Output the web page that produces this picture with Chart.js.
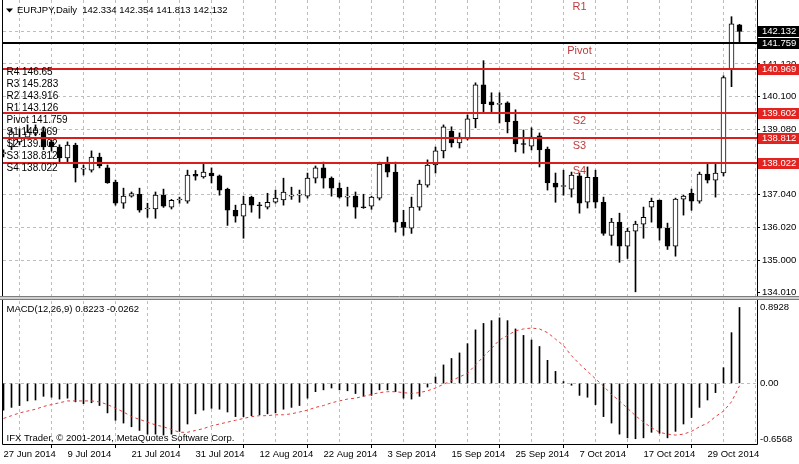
<!DOCTYPE html>
<html><head><meta charset="utf-8">
<script src="https://cdn.jsdelivr.net/npm/chart.js@4.4.0/dist/chart.umd.min.js"></script>
<style>
html,body{margin:0;padding:0;background:#fff;width:799px;height:464px;overflow:hidden;}
canvas{position:absolute;left:0;}
#c1{top:0;}
#c2{top:297px;}
</style></head><body>
<canvas id="c1" width="799" height="297"></canvas>
<canvas id="c2" width="799" height="167"></canvas>
<script>
// ---------- data ----------
const symbolTitle = 'EURJPY,Daily';
const lastQuote = [142.334, 142.354, 141.813, 142.132];
const dates = ['27 Jun 2014','30 Jun 2014','1 Jul 2014','2 Jul 2014','3 Jul 2014','4 Jul 2014','7 Jul 2014','8 Jul 2014',
'9 Jul 2014','10 Jul 2014','11 Jul 2014','14 Jul 2014','15 Jul 2014','16 Jul 2014','17 Jul 2014','18 Jul 2014',
'21 Jul 2014','22 Jul 2014','23 Jul 2014','24 Jul 2014','25 Jul 2014','28 Jul 2014','29 Jul 2014','30 Jul 2014',
'31 Jul 2014','1 Aug 2014','4 Aug 2014','5 Aug 2014','6 Aug 2014','7 Aug 2014','8 Aug 2014','11 Aug 2014',
'12 Aug 2014','13 Aug 2014','14 Aug 2014','15 Aug 2014','18 Aug 2014','19 Aug 2014','20 Aug 2014','21 Aug 2014',
'22 Aug 2014','25 Aug 2014','26 Aug 2014','27 Aug 2014','28 Aug 2014','29 Aug 2014','1 Sep 2014','2 Sep 2014',
'3 Sep 2014','4 Sep 2014','5 Sep 2014','8 Sep 2014','9 Sep 2014','10 Sep 2014','11 Sep 2014','12 Sep 2014',
'15 Sep 2014','16 Sep 2014','17 Sep 2014','18 Sep 2014','19 Sep 2014','22 Sep 2014','23 Sep 2014','24 Sep 2014',
'25 Sep 2014','26 Sep 2014','29 Sep 2014','30 Sep 2014','1 Oct 2014','2 Oct 2014','3 Oct 2014','6 Oct 2014',
'7 Oct 2014','8 Oct 2014','9 Oct 2014','10 Oct 2014','13 Oct 2014','14 Oct 2014','15 Oct 2014','16 Oct 2014',
'17 Oct 2014','20 Oct 2014','21 Oct 2014','22 Oct 2014','23 Oct 2014','24 Oct 2014','27 Oct 2014','28 Oct 2014',
'29 Oct 2014','30 Oct 2014','31 Oct 2014','3 Nov 2014','4 Nov 2014'];

const openP = [138.32,138.53,138.69,138.84,138.97,139.00,138.69,138.53,138.19,138.59,137.84,137.81,138.22,137.88,137.44,136.78,
137.00,137.06,136.60,136.60,137.03,136.66,136.88,136.84,137.68,137.60,137.72,137.63,137.22,136.56,136.38,136.97,
136.72,136.66,136.81,136.88,137.00,137.03,137.00,137.56,137.88,137.56,137.25,136.97,137.00,136.66,136.69,136.94,
138.00,137.75,136.19,136.00,136.66,137.34,137.97,138.41,139.03,138.66,138.78,139.41,140.47,139.94,139.86,139.91,
139.34,138.63,138.56,138.88,138.47,137.41,137.30,137.22,137.63,136.81,137.59,136.81,135.78,136.19,135.44,135.91,
136.13,136.66,136.88,136.00,135.44,136.91,137.09,136.84,137.69,137.50,137.72,140.97,142.334];
const highP = [138.44,139.10,139.10,139.22,139.22,139.16,138.75,138.60,138.69,138.65,137.97,138.41,138.34,137.97,137.50,137.25,
137.13,137.25,136.78,137.13,137.22,136.90,136.97,137.81,137.80,138.03,137.88,137.66,137.25,136.72,137.00,137.00,
136.81,137.09,137.19,137.56,137.28,137.19,137.72,137.94,138.06,137.60,137.41,137.28,137.13,137.06,137.00,138.06,
138.22,138.06,136.56,136.97,137.50,138.13,138.53,139.22,139.16,138.97,139.53,140.53,141.22,140.22,140.22,139.94,
139.69,139.06,139.13,138.97,138.53,137.72,137.81,137.75,137.72,137.91,137.81,136.97,136.31,136.47,136.00,136.22,
136.66,136.94,136.88,136.16,136.94,137.03,137.22,137.75,138.03,138.03,140.75,142.59,142.354];
const lowP = [138.22,138.45,138.60,138.78,138.88,138.45,138.40,138.03,138.06,137.44,137.66,137.75,137.88,137.40,136.72,136.62,
136.97,136.50,136.34,136.31,136.65,136.60,136.78,136.78,137.50,137.56,137.41,137.03,136.09,136.19,135.69,136.50,
136.31,136.60,136.78,136.72,136.90,136.81,136.94,137.41,137.25,137.00,136.94,136.69,136.31,136.62,136.59,136.88,
137.60,135.88,135.78,135.84,136.56,137.28,137.72,138.19,138.53,138.50,138.75,139.13,139.63,139.63,139.28,138.97,
138.38,138.34,138.44,137.91,137.19,136.81,137.03,136.97,136.47,136.63,136.63,135.78,135.47,134.94,135.06,134.02,
135.69,136.19,135.63,135.34,135.13,136.41,136.56,136.78,137.41,136.97,137.63,140.41,141.813];
const closeP = [138.36,139.00,138.81,139.00,139.06,138.53,138.53,138.19,138.59,137.88,137.86,138.22,137.94,137.41,136.78,137.00,
137.08,136.56,136.63,137.03,136.69,136.87,136.91,137.66,137.62,137.75,137.63,137.19,136.56,136.38,136.75,136.72,
136.70,136.81,136.94,137.13,137.02,137.05,137.56,137.88,137.56,137.25,136.97,137.00,136.66,136.64,136.97,138.00,
137.75,136.19,136.03,136.66,137.38,137.97,138.41,139.16,138.66,138.84,139.41,140.47,139.88,139.84,139.88,139.31,
138.63,138.61,138.84,138.44,137.41,137.28,137.31,137.66,136.78,137.59,136.81,135.84,136.19,135.44,135.91,136.13,
136.34,136.84,136.00,135.44,136.91,137.00,136.84,137.69,137.50,137.72,140.69,142.37,142.132];

const macdMain = [-0.29,-0.26,-0.24,-0.19,-0.18,-0.14,-0.15,-0.17,-0.16,-0.20,-0.22,-0.21,-0.24,-0.32,-0.40,-0.43,
-0.47,-0.51,-0.55,-0.55,-0.56,-0.55,-0.52,-0.44,-0.33,-0.29,-0.27,-0.28,-0.31,-0.36,-0.36,-0.35,
-0.34,-0.33,-0.32,-0.28,-0.26,-0.24,-0.16,-0.09,-0.07,-0.05,-0.07,-0.08,-0.11,-0.14,-0.13,-0.07,
-0.07,-0.09,-0.16,-0.17,-0.14,-0.04,0.07,0.20,0.27,0.33,0.43,0.58,0.65,0.68,0.71,0.68,
0.59,0.52,0.47,0.40,0.25,0.13,0.02,-0.02,-0.13,-0.15,-0.23,-0.36,-0.43,-0.55,-0.59,-0.60,
-0.59,-0.53,-0.54,-0.59,-0.52,-0.44,-0.37,-0.26,-0.18,-0.10,0.17,0.55,0.8223];
const macdSignal = [-0.38,-0.35,-0.32,-0.30,-0.28,-0.25,-0.23,-0.21,-0.19,-0.19,-0.19,-0.19,-0.20,-0.23,-0.27,-0.31,
-0.36,-0.39,-0.42,-0.45,-0.47,-0.50,-0.53,-0.53,-0.51,-0.49,-0.46,-0.44,-0.42,-0.40,-0.38,-0.36,
-0.35,-0.35,-0.34,-0.34,-0.33,-0.31,-0.29,-0.26,-0.24,-0.21,-0.19,-0.17,-0.16,-0.14,-0.12,-0.10,
-0.09,-0.09,-0.10,-0.11,-0.10,-0.08,-0.05,-0.01,0.03,0.07,0.11,0.20,0.29,0.38,0.47,0.52,
0.57,0.59,0.60,0.59,0.55,0.48,0.41,0.30,0.21,0.13,0.05,-0.03,-0.12,-0.19,-0.27,-0.35,
-0.42,-0.48,-0.53,-0.55,-0.56,-0.55,-0.52,-0.47,-0.43,-0.36,-0.30,-0.20,-0.0262];

const priceTicks = [134.01, 135.00, 136.02, 137.04, 138.06, 139.08, 140.10, 141.12, 142.14];
const levelNames = ['R4','R3','R2','R1','Pivot','S1','S2','S3','S4'];
const levelValues = [146.65, 145.283, 143.916, 143.126, 141.759, 140.969, 139.602, 138.812, 138.022];
const macdTicks = [-0.6568, 0.00, 0.8928];
const macdTitle = 'MACD(12,26,9) 0.8223 -0.0262';
const copyright = 'IFX Trader, \u00A9 2001-2014, MetaQuotes Software Corp.';

// ---------- style ----------
const FONT = '"Liberation Sans", Arial, sans-serif';
const fnt = s => s + 'px ' + FONT;
const GRID = '#bdbdbd';
const RED_LINE = '#d91e1e';
const RED_BOX = '#e3231f';
const RED_TEXT = '#bf3b3b';
const X_MIN = -0.0625, X_MAX = 94.1875;
const gridBars = [];
for (let b = 0; b < dates.length; b += 4) gridBars.push(b);
const levelTagBar = 72;
const idx = dates.map((d, i) => i);
const isUp = idx.map(i => closeP[i] >= openP[i]);

function zeroPad(s) { s.paddingTop = 0; s.paddingBottom = 0; s.paddingLeft = 0; s.paddingRight = 0; }

Chart.defaults.font.family = FONT;

// ---------- main price panel ----------
const mainDecor = {
  id: 'mainDecor',
  afterDatasetsDraw(chart) {
    const {ctx, chartArea: a, scales: {x, y}} = chart;
    ctx.save();
    ctx.beginPath(); ctx.rect(a.left, a.top, a.right - a.left, a.bottom - a.top); ctx.clip();
    levelNames.forEach((name, k) => {
      const py = Math.round(y.getPixelForValue(levelValues[k]));
      ctx.strokeStyle = name === 'Pivot' ? '#000' : RED_LINE;
      ctx.lineWidth = 2;
      ctx.beginPath(); ctx.moveTo(a.left, py); ctx.lineTo(a.right, py); ctx.stroke();
      ctx.fillStyle = RED_TEXT; ctx.font = fnt(11);
      ctx.textAlign = 'center'; ctx.textBaseline = 'middle';
      ctx.fillText(name, x.getPixelForValue(levelTagBar), py + 7.5);
    });
    ctx.restore();
  },
  afterDraw(chart) {
    const {ctx, chartArea: a, scales: {y}} = chart;
    ctx.save();
    // header
    ctx.fillStyle = '#000';
    ctx.beginPath(); ctx.moveTo(6, 8.5); ctx.lineTo(13, 8.5); ctx.lineTo(9.5, 12.5); ctx.closePath(); ctx.fill();
    ctx.font = fnt(9.5); ctx.textAlign = 'left'; ctx.textBaseline = 'middle';
    ctx.fillText(symbolTitle + '  ' + lastQuote.map(v => v.toFixed(3)).join(' '), 17, 10.5);
    // pivot list
    ctx.font = fnt(10);
    levelNames.forEach((n, k) => ctx.fillText(n + ' ' + levelValues[k], 6.5, 72 + 12 * k));
    // price boxes
    const boxes = [{v: lastQuote[3], c: '#000'}];
    levelNames.forEach((n, k) => {
      if (levelValues[k] < y.max - 0.15) boxes.push({v: levelValues[k], c: n === 'Pivot' ? '#000' : RED_BOX});
    });
    ctx.font = fnt(9.5);
    boxes.forEach(b => {
      const py = y.getPixelForValue(b.v);
      ctx.fillStyle = b.c;
      ctx.fillRect(a.right + 1, Math.round(py) - 5, 799 - a.right - 1, 11);
      ctx.fillStyle = '#fff';
      ctx.fillText(b.v.toFixed(3), a.right + 5, Math.round(py) + 0.5);
    });
    // borders
    ctx.lineWidth = 1;
    ctx.strokeStyle = '#000';
    ctx.beginPath(); ctx.moveTo(2.5, 0); ctx.lineTo(2.5, a.bottom); ctx.stroke();
    ctx.beginPath(); ctx.moveTo(a.right + 0.5, 0); ctx.lineTo(a.right + 0.5, a.bottom); ctx.stroke();
    ctx.strokeStyle = '#7d7d7d';
    ctx.beginPath(); ctx.moveTo(0, a.bottom + 0.5); ctx.lineTo(799, a.bottom + 0.5); ctx.stroke();
    ctx.restore();
  }
};

new Chart(document.getElementById('c1'), {
  type: 'bar',
  data: {
    datasets: [
      { data: idx.map(i => ({x: i, y: [openP[i], closeP[i]]})), grouped: false, order: 0,
        barThickness: 5, minBarLength: 1, borderSkipped: false, borderWidth: 1,
        borderColor: '#000', backgroundColor: isUp.map(u => u ? '#fff' : '#000') },
      { data: idx.map(i => ({x: i, y: [lowP[i], highP[i]]})), grouped: false, order: 1,
        barThickness: 1, borderWidth: 0, backgroundColor: '#000' }
    ]
  },
  options: {
    responsive: false, animation: false, devicePixelRatio: 1,
    layout: {padding: {left: 3, top: 0, right: 0, bottom: 1}},
    plugins: {legend: {display: false}, tooltip: {enabled: false}},
    scales: {
      x: {
        type: 'linear', min: X_MIN, max: X_MAX, offset: false,
        afterBuildTicks: s => { s.ticks = gridBars.map(v => ({value: v})); },
        afterFit: s => { s.height = 0; zeroPad(s); },
        ticks: {display: false},
        grid: {color: GRID, drawTicks: false, lineWidth: 1},
        border: {display: false, dash: [3, 3]}
      },
      y: {
        position: 'right', min: 133.89, max: 143.11,
        afterBuildTicks: s => { s.ticks = priceTicks.map(v => ({value: v})); },
        afterFit: s => { s.width = 42; zeroPad(s); },
        ticks: {callback: v => v.toFixed(3), color: '#000', font: {size: 9.5, family: FONT}, padding: 2, autoSkip: false},
        grid: {color: c => (c.tick && c.tick.value === 134.01) ? 'rgba(0,0,0,0)' : GRID,
               tickColor: '#000', tickLength: 3, drawTicks: true, tickBorderDash: []},
        border: {display: false, dash: [3, 3]}
      }
    }
  },
  plugins: [mainDecor]
});

// ---------- MACD panel ----------
const macdDecor = {
  id: 'macdDecor',
  afterDraw(chart) {
    const {ctx, chartArea: a, scales: {y}} = chart;
    ctx.save();
    ctx.fillStyle = '#d0d0d0'; ctx.fillRect(0, 0, 799, 2);
    ctx.fillStyle = '#7d7d7d'; ctx.fillRect(0, 2, 799, 1);
    ctx.fillStyle = '#000';
    ctx.font = fnt(9.5); ctx.textAlign = 'left'; ctx.textBaseline = 'middle';
    ctx.fillText(macdTitle, 6.5, 12);
    ctx.fillText(copyright, 6.5, 141.5);
    macdTicks.forEach(v => {
      let py = y.getPixelForValue(v);
      if (v === y.max) py = a.top + 6;
      else if (v === y.min) py = a.bottom - 4.5;
      ctx.fillText(v === 0 ? '0.00' : v.toFixed(4), a.right + 3, py);
    });
    ctx.strokeStyle = '#000'; ctx.lineWidth = 1;
    ctx.beginPath(); ctx.moveTo(2.5, 3); ctx.lineTo(2.5, a.bottom + 0.5); ctx.lineTo(a.right + 0.5, a.bottom + 0.5); ctx.lineTo(a.right + 0.5, 3); ctx.stroke();
    ctx.restore();
  }
};

new Chart(document.getElementById('c2'), {
  type: 'bar',
  data: {
    datasets: [
      { type: 'line', data: idx.map(i => ({x: i, y: macdSignal[i]})), order: 0,
        borderColor: '#e0403c', borderWidth: 1, borderDash: [3, 3], pointRadius: 0, tension: 0, fill: false },
      { data: idx.map(i => ({x: i, y: macdMain[i]})), order: 1, grouped: false,
        barThickness: 1, borderWidth: 0, backgroundColor: '#000' }
    ]
  },
  options: {
    responsive: false, animation: false, devicePixelRatio: 1,
    layout: {padding: {left: 3, top: 4, right: 0, bottom: 0}},
    plugins: {legend: {display: false}, tooltip: {enabled: false}},
    scales: {
      x: {
        type: 'linear', min: X_MIN, max: X_MAX, offset: false,
        afterBuildTicks: s => { s.ticks = gridBars.map(v => ({value: v})); },
        afterFit: s => { s.height = 20; zeroPad(s); },
        ticks: {callback: v => (v % 8 === 0 ? dates[v] : ''), align: 'start', maxRotation: 0, minRotation: 0,
                autoSkip: false, color: '#000', font: {size: 9.5, family: FONT}, padding: 1},
        grid: {color: GRID, tickColor: c => (c.tick && c.tick.value % 8 === 0) ? '#000' : 'rgba(0,0,0,0)',
               tickLength: 4, drawTicks: true, tickBorderDash: []},
        border: {display: false, dash: [3, 3]}
      },
      y: {
        position: 'right', min: -0.6568, max: 0.8928,
        afterBuildTicks: s => { s.ticks = macdTicks.map(v => ({value: v})); },
        afterFit: s => { s.width = 42; zeroPad(s); },
        ticks: {display: false},
        grid: {color: c => (c.tick && c.tick.value === 0) ? GRID : 'rgba(0,0,0,0)', drawTicks: false},
        border: {display: false, dash: [3, 3]}
      }
    }
  },
  plugins: [macdDecor]
});
</script>
</body></html>
